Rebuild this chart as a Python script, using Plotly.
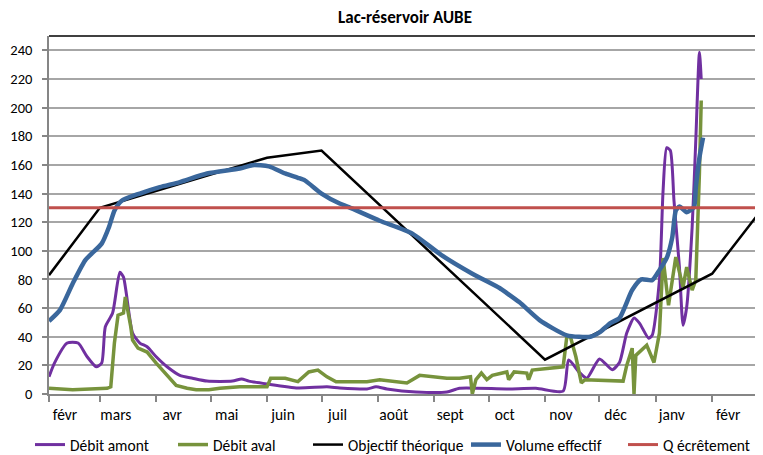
import plotly.graph_objects as go

# ---------------- data ----------------
month_ticks = ["2013-02-01", "2013-03-01", "2013-04-01", "2013-05-01", "2013-06-01",
               "2013-07-01", "2013-08-01", "2013-09-01", "2013-10-01", "2013-11-01",
               "2013-12-01", "2014-01-01", "2014-02-01"]
month_labels = ["févr", "mars", "avr", "mai", "juin", "juil", "août", "sept", "oct",
                "nov", "déc", "janv", "févr"]
y_ticks = list(range(0, 241, 20))

amont_dates = ["2013-02-01", "2013-02-04", "2013-02-11", "2013-02-17", "2013-02-22", "2013-02-27",
               "2013-03-02", "2013-03-04", "2013-03-08", "2013-03-12", "2013-03-14", "2013-03-19",
               "2013-03-23", "2013-03-27", "2013-04-01", "2013-04-07", "2013-04-14", "2013-04-21",
               "2013-04-29", "2013-05-13", "2013-05-18", "2013-05-22", "2013-06-01", "2013-06-18",
               "2013-07-04", "2013-07-11", "2013-07-26", "2013-07-31", "2013-08-06", "2013-08-22",
               "2013-09-08", "2013-09-15", "2013-10-11", "2013-10-27", "2013-11-11", "2013-11-14",
               "2013-11-20", "2013-11-24", "2013-12-01", "2013-12-08", "2013-12-12", "2013-12-16",
               "2013-12-20", "2013-12-23", "2013-12-28", "2013-12-30", "2014-01-03", "2014-01-05",
               "2014-01-07", "2014-01-09", "2014-01-11", "2014-01-14", "2014-01-16", "2014-01-18",
               "2014-01-21", "2014-01-23", "2014-01-25", "2014-01-26"]
amont_vals = [12, 21.6, 35.6, 35.6, 26, 19,
              21.6, 47, 56.5, 85, 81.6, 42.6,
              35.6, 33, 26, 19, 13, 11,
              9, 9, 10.5, 9, 7, 4.2,
              5, 4.2, 3.5, 5, 3.5, 1.4,
              1.4, 4, 3.5, 4, 2, 23.7,
              15, 11, 24.5, 17, 22, 42.6,
              53, 49.5, 39, 41, 79.5, 142,
              172, 170, 135, 88.6, 48, 60.7,
              116.5, 177, 238.6, 220]

aval_dates = ["2013-02-01", "2013-02-14", "2013-03-05", "2013-03-07", "2013-03-09", "2013-03-11",
              "2013-03-14", "2013-03-15", "2013-03-18", "2013-03-19", "2013-03-22", "2013-03-27",
              "2013-04-01", "2013-04-07", "2013-04-12", "2013-04-18", "2013-04-23", "2013-04-30",
              "2013-05-06", "2013-05-17", "2013-06-01", "2013-06-03", "2013-06-11", "2013-06-18",
              "2013-06-24", "2013-06-29", "2013-07-04", "2013-07-09", "2013-07-26", "2013-08-02",
              "2013-08-17", "2013-08-24", "2013-09-08", "2013-09-15", "2013-09-21", "2013-09-22",
              "2013-09-24", "2013-09-27", "2013-09-30", "2013-10-03", "2013-10-11", "2013-10-12",
              "2013-10-15", "2013-10-22", "2013-10-23", "2013-10-25", "2013-11-05", "2013-11-11",
              "2013-11-13", "2013-11-15", "2013-11-18", "2013-11-21", "2013-11-23", "2013-12-12",
              "2013-12-14", "2013-12-16", "2013-12-19", "2013-12-20", "2013-12-21", "2013-12-27",
              "2013-12-31", "2014-01-03", "2014-01-05", "2014-01-08", "2014-01-12", "2014-01-16",
              "2014-01-18", "2014-01-21", "2014-01-23", "2014-01-25", "2014-01-26"]
aval_vals = [4, 3, 4, 5, 35.6, 55,
             56.5, 67.7, 47, 37.7, 32, 29.3,
             21.6, 13, 6, 4, 3, 3,
             4, 5, 5, 11, 11, 8.6,
             15.4, 16.7, 12, 8.6, 8.6, 10,
             7.7, 13, 11, 11, 12, 0,
             10, 14.6, 10, 13, 15.4, 10,
             15.4, 14.6, 10, 16.7, 18, 19,
             40, 40, 26, 7.7, 10, 9,
             9, 20, 32, 0, 27, 34,
             22, 42.6, 95, 62, 95.6, 74.6,
             88.6, 72.6, 79.5, 154, 205]

objectif_dates = ["2013-02-01", "2013-03-01", "2013-06-01", "2013-07-01", "2013-11-01",
                  "2014-02-01", "2014-03-01"]
objectif_vals = [83, 130, 165, 170, 24, 84, 130]

volume_dates = ["2013-02-01", "2013-02-07", "2013-02-14", "2013-02-21", "2013-03-02", "2013-03-06",
                "2013-03-09", "2013-03-13", "2013-03-23", "2013-04-03", "2013-04-14", "2013-04-29",
                "2013-05-17", "2013-05-24", "2013-06-02", "2013-06-11", "2013-06-18", "2013-06-22",
                "2013-07-01", "2013-07-11", "2013-07-16", "2013-08-02", "2013-08-20", "2013-09-05",
                "2013-09-22", "2013-10-07", "2013-10-11", "2013-10-18", "2013-10-29", "2013-11-13",
                "2013-11-26", "2013-12-01", "2013-12-07", "2013-12-12", "2013-12-19", "2013-12-24",
                "2013-12-30", "2014-01-03", "2014-01-07", "2014-01-10", "2014-01-12", "2014-01-14",
                "2014-01-18", "2014-01-22", "2014-01-23", "2014-01-25", "2014-01-27"]
volume_vals = [51, 58.6, 77, 93.5, 105, 116.5,
               128, 135, 140, 144.5, 148, 154,
               157.5, 159.8, 159, 154, 151, 149,
               140, 133, 130.5, 121, 112, 97,
               84, 74, 70.5, 64, 51.6, 41,
               40, 43, 49.5, 53, 72.6, 80,
               79.5, 86.5, 95, 109, 128, 131,
               127, 130.5, 144, 165, 179]

ecretement_dates = ["2013-02-01", "2014-03-01"]
ecretement_vals = [130, 130]

# ---------------- figure ----------------
FONT = "Carlito, Calibri, Lato, sans-serif"
# the page body adds an 8px offset; the figure fills the rest of the 763x455 window
W, H = 755, 447

fig = go.Figure()
fig.add_trace(go.Scatter(x=amont_dates, y=amont_vals, name="Débit amont", mode="lines",
                         legend="legend",
                         line=dict(color="#7030A0", width=3, shape="spline", smoothing=0.6)))
fig.add_trace(go.Scatter(x=aval_dates, y=aval_vals, name="Débit aval", mode="lines",
                         legend="legend2",
                         line=dict(color="#77933C", width=3.5)))
fig.add_trace(go.Scatter(x=objectif_dates, y=objectif_vals, name="Objectif théorique", mode="lines",
                         legend="legend3",
                         line=dict(color="#000000", width=2.5)))
fig.add_trace(go.Scatter(x=volume_dates, y=volume_vals, name="Volume effectif", mode="lines",
                         legend="legend4",
                         line=dict(color="#3A679C", width=4.5, shape="spline", smoothing=0.6)))
fig.add_trace(go.Scatter(x=ecretement_dates, y=ecretement_vals, name="Q écrêtement", mode="lines",
                         legend="legend5",
                         line=dict(color="#C0504D", width=3)))


def leg(px):
    return dict(orientation="h", xref="container", yref="container",
                x=px / W, xanchor="left", y=1 - 437 / H, yanchor="middle",
                font=dict(family=FONT, size=15.5), itemwidth=30,
                bgcolor="rgba(0,0,0,0)")


fig.update_layout(
    width=W, height=H,
    margin=dict(l=41, r=0, t=28, b=61, autoexpand=False),
    paper_bgcolor="white", plot_bgcolor="white",
    font=dict(family=FONT, size=15.5, color="#000000"),
    title=dict(text="<b>Lac-réservoir AUBE</b>", x=397 / W, xref="container", xanchor="center",
               y=1 - 9 / H, yref="container", yanchor="middle", font=dict(family=FONT, size=17)),
    showlegend=True,
    legend=leg(22), legend2=leg(165), legend3=leg(300), legend4=leg(458), legend5=leg(615),
    shapes=[dict(type="line", xref="paper", yref="paper", x0=0, x1=1, y0=1, y1=1,
                 line=dict(color="#000000", width=1.5))],
)
fig.update_xaxes(type="date", range=["2013-02-01", "2014-03-01"], automargin=False,
                 tickvals=month_ticks, ticktext=month_labels,
                 ticks="outside", ticklen=6, tickcolor="#868686", tickwidth=1.5,
                 ticklabelshift=16,
                 showline=True, linecolor="#868686", linewidth=1.5,
                 showgrid=False, zeroline=False)
fig.update_yaxes(range=[0, 250], tickvals=y_ticks, automargin=False,
                 tickfont=dict(family=FONT, size=14.5),
                 ticks="outside", ticklen=5, tickcolor="#868686", tickwidth=1.5,
                 ticklabelstandoff=7,
                 showline=True, linecolor="#868686", linewidth=1.5,
                 showgrid=True, gridcolor="#A6A6A6", gridwidth=1.5, zeroline=False)

fig.write_html("out.html")
